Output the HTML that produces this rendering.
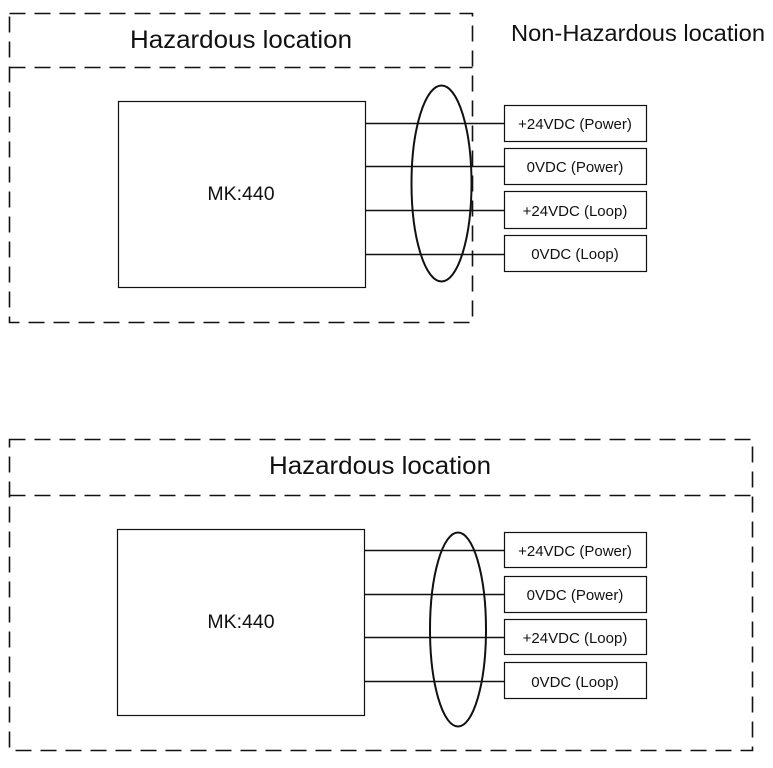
<!DOCTYPE html>
<html><head><meta charset="utf-8"><style>
html,body{margin:0;padding:0;background:#fff;}
svg{display:block;}
text{font-family:"Liberation Sans",sans-serif;fill:#111;}
</style></head><body>
<svg width="773" height="768" viewBox="0 0 773 768" xmlns="http://www.w3.org/2000/svg">
<g fill="none" stroke="#111" stroke-width="1.6" stroke-dasharray="16,9">
<rect x="9.5" y="13.5" width="463" height="309"/>
<line x1="9.5" y1="67.5" x2="472.5" y2="67.5"/>
<rect x="9.5" y="439.5" width="743" height="311"/>
<line x1="9.5" y1="495.5" x2="752.5" y2="495.5"/>
</g>
<g fill="#fff" stroke="#111" stroke-width="1.2">
<rect x="118.5" y="101.5" width="247" height="186"/>
<rect x="117.5" y="529.5" width="247" height="186"/>
<rect x="504.5" y="105.5" width="142" height="36"/>
<rect x="504.5" y="148.5" width="142" height="36"/>
<rect x="504.5" y="191.5" width="142" height="37"/>
<rect x="504.5" y="235.5" width="142" height="36"/>
<rect x="504.5" y="532.5" width="142" height="35"/>
<rect x="504.5" y="576.5" width="142" height="36"/>
<rect x="504.5" y="619.5" width="142" height="35"/>
<rect x="504.5" y="662.5" width="142" height="36"/>
</g>
<g stroke="#111" stroke-width="1.6">
<line x1="365" y1="123.5" x2="504" y2="123.5"/>
<line x1="365" y1="166.5" x2="504" y2="166.5"/>
<line x1="365" y1="210.5" x2="504" y2="210.5"/>
<line x1="365" y1="254.5" x2="504" y2="254.5"/>
<line x1="364" y1="550.5" x2="504" y2="550.5"/>
<line x1="364" y1="594.5" x2="504" y2="594.5"/>
<line x1="364" y1="637.5" x2="504" y2="637.5"/>
<line x1="364" y1="681.5" x2="504" y2="681.5"/>
</g>
<g fill="none" stroke="#111" stroke-width="2">
<ellipse cx="441.5" cy="183.5" rx="30" ry="98"/>
<ellipse cx="458" cy="629.5" rx="28" ry="97"/>
</g>
<text x="241" y="48" font-size="25" text-anchor="middle" textLength="222" lengthAdjust="spacingAndGlyphs">Hazardous location</text>
<text x="638" y="41" font-size="23" text-anchor="middle" textLength="254" lengthAdjust="spacingAndGlyphs">Non-Hazardous location</text>
<text x="380" y="474" font-size="25" text-anchor="middle" textLength="222" lengthAdjust="spacingAndGlyphs">Hazardous location</text>
<text x="241" y="200" font-size="19.5" text-anchor="middle">MK:440</text>
<text x="241" y="628" font-size="19.5" text-anchor="middle">MK:440</text>
<g font-size="15" text-anchor="middle">
<text x="575" y="129">+24VDC (Power)</text>
<text x="575" y="172">0VDC (Power)</text>
<text x="575" y="216">+24VDC (Loop)</text>
<text x="575" y="259">0VDC (Loop)</text>
<text x="575" y="556">+24VDC (Power)</text>
<text x="575" y="600">0VDC (Power)</text>
<text x="575" y="643">+24VDC (Loop)</text>
<text x="575" y="687">0VDC (Loop)</text>
</g>
</svg>
</body></html>
